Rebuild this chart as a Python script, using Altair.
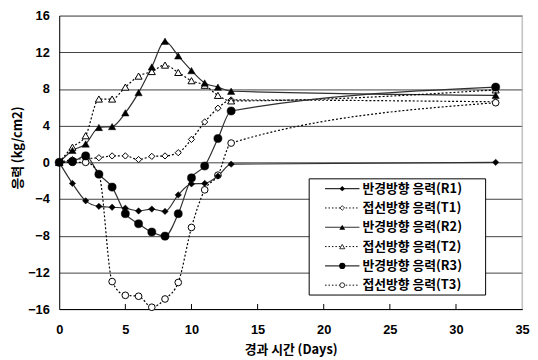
import altair as alt
import pandas as pd

days = [0, 1, 2, 3, 4, 5, 6, 7, 8, 9, 10, 11, 12, 13, 33]
r1 = [0, -2.3, -4.2, -4.8, -4.9, -5.0, -5.3, -5.1, -5.35, -3.55, -2.35, -2.3, -1.5, -0.2, 0.0]
t1 = [0, 0.3, 0.4, 0.5, 0.7, 0.7, 0.3, 0.65, 0.7, 1.05, 2.5, 4.4, 5.9, 6.8, 6.6]
r2 = [0, 1.3, 2.0, 3.8, 3.9, 5.4, 7.6, 10.4, 13.2, 11.6, 10.0, 8.65, 8.2, 7.75, 7.3]
t2 = [0, 1.65, 2.9, 6.9, 6.9, 8.2, 9.4, 9.9, 10.6, 9.8, 8.9, 8.4, 7.3, 6.7, 7.9]
r3 = [0, 0.1, 0.7, -1.3, -2.7, -5.6, -6.7, -7.6, -8.05, -5.6, -1.7, -0.4, 2.6, 5.6, 8.2]
t3 = [0, 0.0, 0.0, -1.3, -13.0, -14.5, -14.6, -15.8, -14.9, -13.1, -7.1, -3.0, -1.4, 2.1, 6.5]

series_names = ["반경방향 응력(R1)", "접선방향 응력(T1)", "반경방향 응력(R2)",
                "접선방향 응력(T2)", "반경방향 응력(R3)", "접선방향 응력(T3)"]
series_values = [r1, t1, r2, t2, r3, t3]

x_ticks = [0, 5, 10, 15, 20, 25, 30, 35]
y_ticks = [-16, -12, -8, -4, 0, 4, 8, 12, 16]

styles = [
    dict(solid=True, shape="diamond", open=False, size=42, lsize=30),
    dict(solid=False, shape="diamond", open=True, size=40, lsize=22),
    dict(solid=True, shape="triangle-up", open=False, size=55, lsize=36),
    dict(solid=False, shape="triangle-up", open=True, size=52, lsize=26),
    dict(solid=True, shape="circle", open=False, size=68, lsize=40),
    dict(solid=False, shape="circle", open=True, size=46, lsize=24),
]

rows = []
for name, vals in zip(series_names, series_values):
    for d, v in zip(days, vals):
        rows.append({"day": d, "value": v, "series": name})
df = pd.DataFrame(rows)

FONT = "Noto Sans CJK KR"
xscale = alt.Scale(domain=[0, 35], nice=False, zero=False)
yscale = alt.Scale(domain=[-16, 16], nice=False, zero=False)

x_axis = alt.Axis(values=x_ticks, grid=False, ticks=False, domainColor="black",
                  labelFont="Liberation Sans", labelFontWeight="bold", labelFontSize=13,
                  labelColor="black", labelPadding=15, labelFlush=False, labelOverlap=False,
                  title="경과 시간 (Days)", titleFont=FONT, titleFontWeight="bold",
                  titleFontSize=13, titleColor="black", titleBaseline="middle", titleY=41)
y_axis = alt.Axis(values=y_ticks, grid=True, gridColor="#404040", gridWidth=1,
                  ticks=False, domainColor="black",
                  labelFont="Liberation Sans", labelFontWeight="bold", labelFontSize=13,
                  labelColor="black", labelPadding=10, labelFlush=False, labelOverlap=False,
                  title="응력 (kg/cm2)", titleFont=FONT, titleFontWeight="bold",
                  titleFontSize=13, titleColor="black", titleAngle=270,
                  titleBaseline="middle", titleAlign="center", titleX=-42, titleY=134)


def X(field):
    return alt.X(field, type="quantitative", scale=xscale, axis=x_axis)


def Y(field):
    return alt.Y(field, type="quantitative", scale=yscale, axis=y_axis)


base = alt.Chart(df)

axes_layer = base.mark_point(opacity=0).encode(x=X("day"), y=Y("value"))

# right border and inward x ticks
border_df = pd.DataFrame({"x": [35], "y": [-16], "y2": [16]})
border = alt.Chart(border_df).mark_rule(color="#b0b0b0", strokeWidth=1).encode(
    x=X("x"), y=Y("y"), y2="y2:Q")
tick_df = pd.DataFrame({"x": x_ticks[1:-1], "y": [-16] * 6, "y2": [-15.45] * 6})
ticks = alt.Chart(tick_df).mark_rule(color="black", strokeWidth=1).encode(
    x=X("x"), y=Y("y"), y2="y2:Q")

line_layers, open_layers, filled_layers = [], [], []
for name, st in zip(series_names, styles):
    sub = base.transform_filter(alt.datum.series == name)
    if st["solid"]:
        line = sub.mark_line(color="#303030", strokeWidth=1.2, interpolate="monotone")
    else:
        line = sub.mark_line(color="black", strokeWidth=1.2, strokeDash=[2, 2],
                             interpolate="monotone")
    line_layers.append(line.encode(x=X("day"), y=Y("value")))
    if st["open"]:
        pt = sub.mark_point(shape=st["shape"], size=st["size"], filled=True,
                            fill="white", stroke="black", strokeWidth=1, opacity=1)
        open_layers.append(pt.encode(x=X("day"), y=Y("value")))
    else:
        pt = sub.mark_point(shape=st["shape"], size=st["size"], filled=True,
                            fill="black", stroke="black", strokeWidth=0.5, opacity=1)
        filled_layers.append(pt.encode(x=X("day"), y=Y("value")))

layers = [axes_layer, border, ticks] + line_layers + open_layers + filled_layers

# legend (drawn in data space)
box_df = pd.DataFrame({"x": [18.9], "x2": [32.24], "y": [-1.8], "y2": [-14.47]})
layers.append(alt.Chart(box_df).mark_rect(fill="white", stroke="black", strokeWidth=1).encode(
    x=X("x"), x2="x2:Q", y=Y("y"), y2="y2:Q"))

leg_top, leg_step = -2.87, -2.105
for i, (name, st) in enumerate(zip(series_names, styles)):
    yv = leg_top + i * leg_step
    ldf = pd.DataFrame({"x": [20.1], "x2": [22.7], "xm": [21.4], "xt": [22.93],
                        "y": [yv], "label": [name]})
    lc = alt.Chart(ldf)
    if st["solid"]:
        rule = lc.mark_rule(color="#303030", strokeWidth=1.2)
    else:
        rule = lc.mark_rule(color="black", strokeWidth=1, strokeDash=[1.5, 2])
    layers.append(rule.encode(x=X("x"), x2="x2:Q", y=Y("y")))
    if st["open"]:
        lp = lc.mark_point(shape=st["shape"], size=st["lsize"], filled=True,
                           fill="white", stroke="black", strokeWidth=0.8, opacity=1)
    else:
        lp = lc.mark_point(shape=st["shape"], size=st["lsize"], filled=True,
                           fill="black", opacity=1)
    layers.append(lp.encode(x=X("xm"), y=Y("y")))
    layers.append(lc.mark_text(font=FONT, fontWeight="bold", fontSize=13, align="left",
                               baseline="middle", color="black").encode(
        x=X("xt"), y=Y("y"), text="label:N"))

chart = alt.layer(*layers).properties(
    width=470, height=298,
    autosize=alt.AutoSizeParams(type="none"),
    padding={"left": 52, "top": 5, "right": 8, "bottom": 48},
).configure_view(stroke=None).configure(background="white")

chart.save("out.html", embed_options={"renderer": "svg", "actions": False})
